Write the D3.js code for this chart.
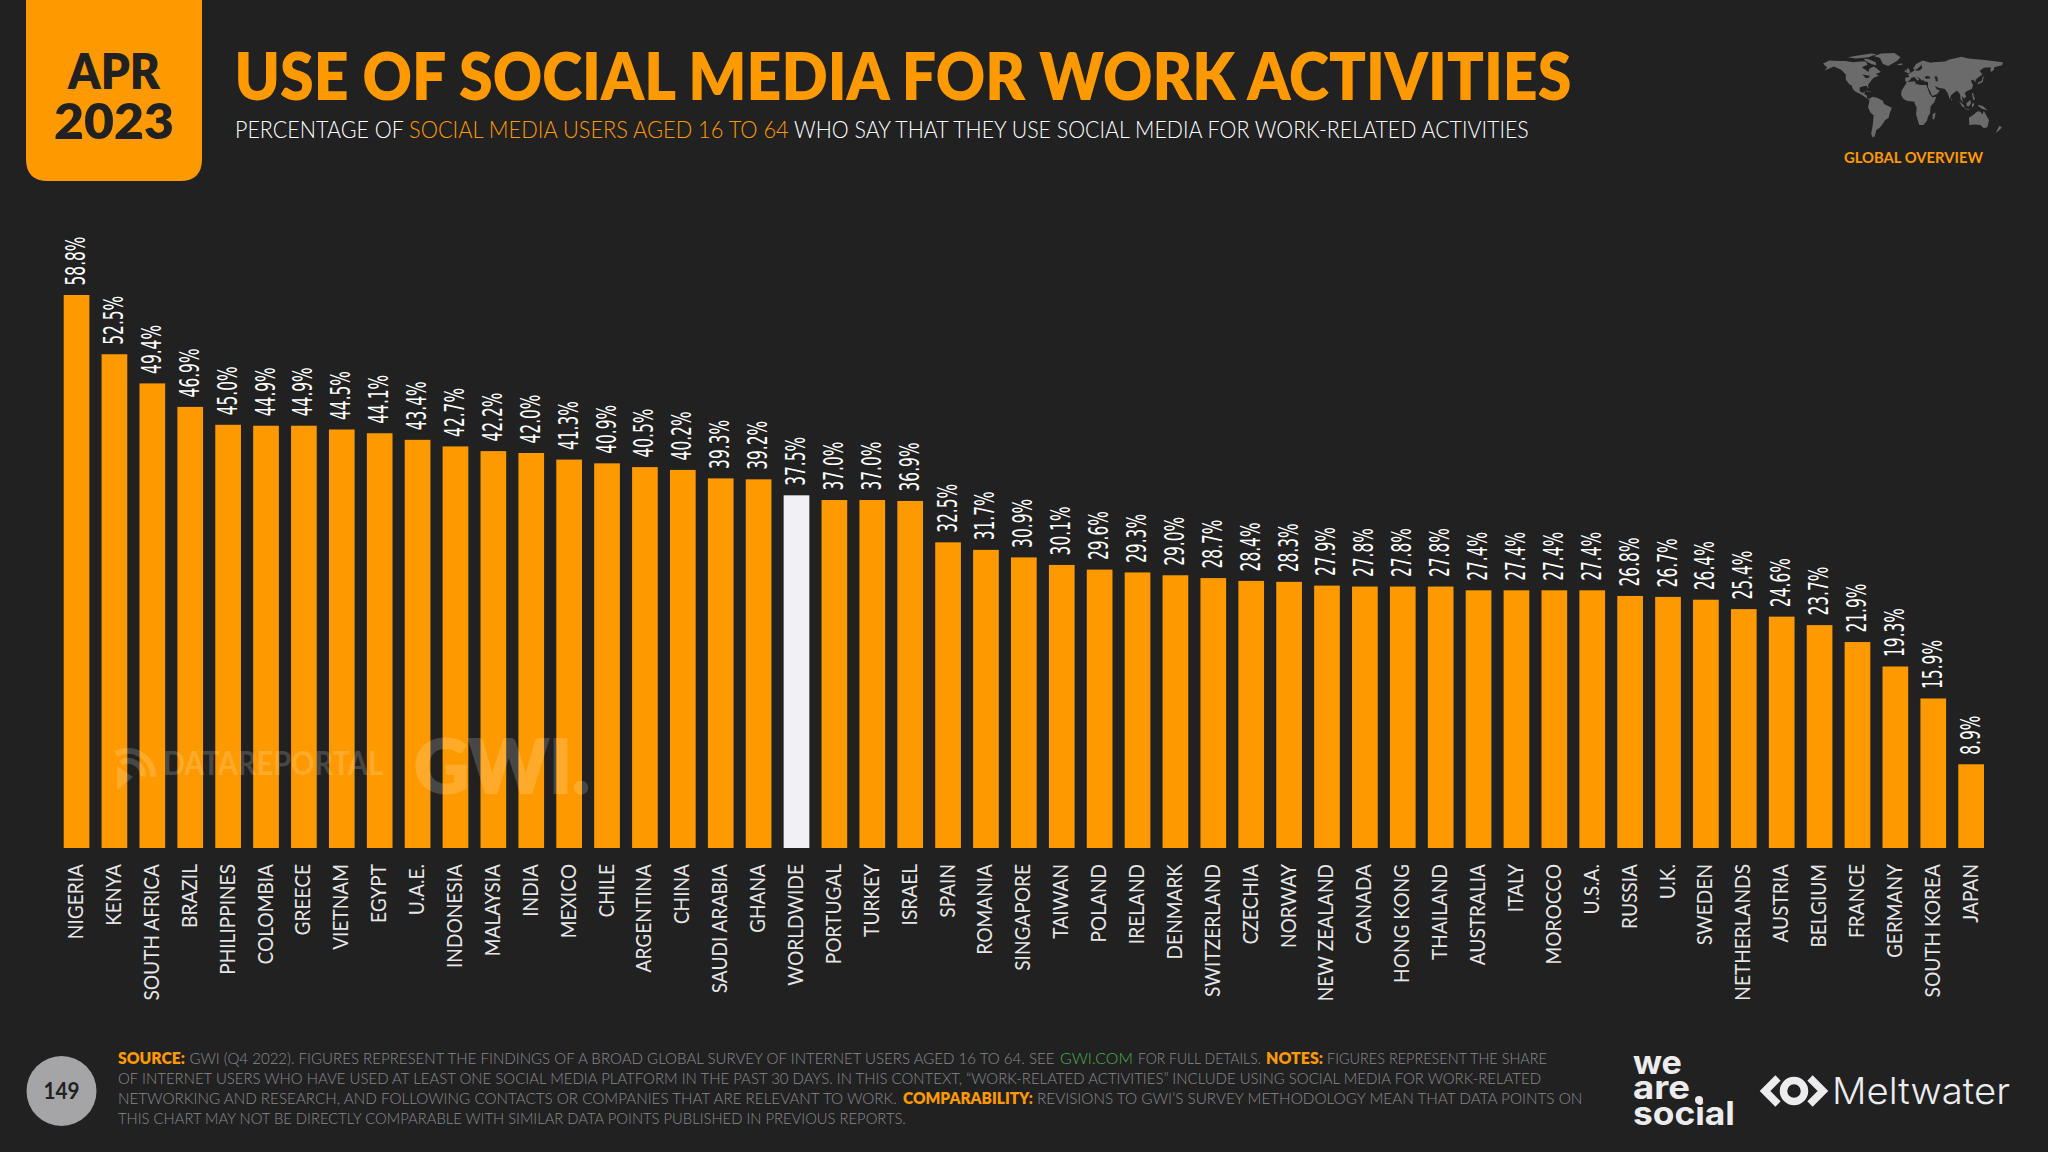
<!DOCTYPE html>
<html>
<head>
<meta charset="utf-8">
<style>
  html, body { margin: 0; padding: 0; background: #212122; }
  svg { display: block; }
</style>
<script src="https://cdn.jsdelivr.net/npm/d3@7"></script>
</head>
<body>
<script>
const countries = ['NIGERIA', 'KENYA', 'SOUTH AFRICA', 'BRAZIL', 'PHILIPPINES', 'COLOMBIA', 'GREECE', 'VIETNAM', 'EGYPT', 'U.A.E.',
  'INDONESIA', 'MALAYSIA', 'INDIA', 'MEXICO', 'CHILE', 'ARGENTINA', 'CHINA', 'SAUDI ARABIA', 'GHANA', 'WORLDWIDE',
  'PORTUGAL', 'TURKEY', 'ISRAEL', 'SPAIN', 'ROMANIA', 'SINGAPORE', 'TAIWAN', 'POLAND', 'IRELAND', 'DENMARK',
  'SWITZERLAND', 'CZECHIA', 'NORWAY', 'NEW ZEALAND', 'CANADA', 'HONG KONG', 'THAILAND', 'AUSTRALIA', 'ITALY', 'MOROCCO',
  'U.S.A.', 'RUSSIA', 'U.K.', 'SWEDEN', 'NETHERLANDS', 'AUSTRIA', 'BELGIUM', 'FRANCE', 'GERMANY', 'SOUTH KOREA', 'JAPAN']
const shares = [58.8, 52.5, 49.4, 46.9, 45.0, 44.9, 44.9, 44.5, 44.1, 43.4,
  42.7, 42.2, 42.0, 41.3, 40.9, 40.5, 40.2, 39.3, 39.2, 37.5,
  37.0, 37.0, 36.9, 32.5, 31.7, 30.9, 30.1, 29.6, 29.3, 29.0,
  28.7, 28.4, 28.3, 27.9, 27.8, 27.8, 27.8, 27.4, 27.4, 27.4,
  27.4, 26.8, 26.7, 26.4, 25.4, 24.6, 23.7, 21.9, 19.3, 15.9, 8.9]

// rough continent outlines, lon/lat
const land = [
  [[-168, 66], [-156, 71], [-140, 70], [-125, 70], [-110, 68], [-95, 69], [-85, 69], [-82, 64], [-93, 60], [-85, 55], [-80, 52], [-78, 58], [-70, 61], [-64, 58], [-56, 52], [-66, 49], [-60, 46], [-70, 43], [-75, 38], [-81, 31], [-80, 25], [-84, 30], [-90, 29], [-97, 27], [-97, 21], [-91, 18], [-87, 21], [-88, 16], [-83, 14], [-83, 9], [-78, 9], [-80, 7], [-86, 11], [-95, 16], [-105, 20], [-110, 24], [-113, 31], [-117, 32], [-124, 40], [-124, 48], [-133, 56], [-147, 61], [-158, 57], [-165, 55], [-160, 60], [-165, 63]],
  [[-55, 82], [-30, 83], [-18, 76], [-25, 70], [-42, 62], [-52, 65], [-58, 75], [-70, 78]],
  [[-90, 74], [-80, 73], [-66, 68], [-65, 63], [-75, 65], [-85, 70]],
  [[-120, 76], [-100, 79], [-75, 82], [-65, 81], [-80, 76], [-105, 74]],
  [[-78, 9], [-72, 12], [-62, 10], [-52, 5], [-50, 0], [-35, -6], [-39, -15], [-41, -22], [-48, -26], [-54, -34], [-58, -38], [-65, -42], [-68, -52], [-72, -54], [-75, -48], [-72, -35], [-70, -18], [-76, -14], [-81, -5], [-79, 2]],
  [[-17, 15], [-16, 22], [-10, 30], [-6, 36], [10, 37], [11, 33], [20, 31], [32, 31], [35, 24], [38, 17], [43, 11], [51, 12], [47, 3], [40, -4], [39, -15], [35, -20], [33, -27], [26, -34], [18, -34], [12, -17], [13, -5], [9, 1], [9, 4], [-4, 5], [-12, 8]],
  [[44, -16], [50, -14], [47, -25], [44, -24]],
  [[-9, 37], [-9, 43], [-1, 44], [-4, 48], [4, 52], [8, 54], [8, 57], [12, 54], [20, 55], [24, 59], [22, 63], [24, 66], [18, 60], [12, 56], [6, 58], [12, 65], [25, 71], [40, 67], [45, 68], [68, 69], [75, 72], [100, 77], [113, 74], [140, 72], [160, 70], [180, 68], [178, 63], [163, 60], [162, 55], [156, 52], [156, 60], [143, 59], [135, 54], [140, 48], [130, 42], [127, 39], [127, 35], [122, 40], [118, 38], [122, 31], [120, 25], [110, 21], [106, 18], [109, 12], [105, 9], [100, 13], [103, 2], [98, 8], [97, 16], [91, 22], [80, 15], [77, 8], [73, 18], [67, 25], [57, 26], [52, 28], [48, 30], [52, 24], [58, 22], [52, 16], [43, 13], [39, 21], [35, 28], [35, 36], [27, 37], [26, 40], [23, 38], [20, 41], [13, 45], [18, 40], [15, 38], [9, 44], [3, 43], [0, 39], [-5, 36]],
  [[-6, 50], [1, 51], [-2, 58], [-6, 58]],
  [[-10, 52], [-6, 52], [-6, 55], [-10, 55]],
  [[-24, 65], [-14, 66], [-14, 64], [-22, 63]],
  [[130, 32], [136, 34], [141, 36], [142, 43], [145, 44], [141, 45], [139, 38], [132, 35]],
  [[95, 5], [104, -2], [106, -6], [101, -4]],
  [[109, 1], [117, 7], [118, 1], [114, -4], [110, -3]],
  [[105, -7], [115, -8], [115, -9], [106, -8]],
  [[120, 1], [125, 1], [122, -5], [120, -5]],
  [[131, -1], [141, -3], [150, -10], [140, -8], [133, -4]],
  [[120, 18], [122, 18], [126, 7], [122, 7], [121, 13]],
  [[114, -22], [122, -18], [130, -12], [136, -12], [140, -17], [143, -11], [153, -26], [150, -37], [143, -39], [136, -34], [125, -33], [115, -34]],
  [[173, -35], [178, -38], [168, -46], [167, -45]],
  [[-84, 22], [-75, 20], [-78, 20], [-84, 21]],
  [[80, 9], [82, 7], [80, 6]]
]
const inlandSeas = [
  [[47, 45], [53, 45], [54, 37], [50, 37], [49, 41]],
  [[28, 44], [35, 46], [41, 42], [31, 41]],
  [[-92, 48], [-78, 46], [-79, 43], [-86, 42], [-88, 45]]
]

// footer pieces: text, colour key, left and right edge
const footerLines = [
  [['SOURCE:', 'o', 118, 185], ['GWI (Q4 2022). FIGURES REPRESENT THE FINDINGS OF A BROAD GLOBAL SURVEY OF INTERNET USERS AGED 16 TO 64. SEE', 'g', 189.5, 1055], ['GWI.COM', 'l', 1060, 1133], ['FOR FULL DETAILS.', 'g', 1138, 1261], ['NOTES:', 'o', 1266, 1323], ['FIGURES REPRESENT THE SHARE', 'g', 1327, 1547]],
  [['OF INTERNET USERS WHO HAVE USED AT LEAST ONE SOCIAL MEDIA PLATFORM IN THE PAST 30 DAYS. IN THIS CONTEXT, \u201CWORK-RELATED ACTIVITIES\u201D INCLUDE USING SOCIAL MEDIA FOR WORK-RELATED', 'g', 118, 1542]],
  [['NETWORKING AND RESEARCH, AND FOLLOWING CONTACTS OR COMPANIES THAT ARE RELEVANT TO WORK.', 'g', 118, 897], ['COMPARABILITY:', 'o', 903, 1033], ['REVISIONS TO GWI\u2019S SURVEY METHODOLOGY MEAN THAT DATA POINTS ON', 'g', 1037, 1583]],
  [['THIS CHART MAY NOT BE DIRECTLY COMPARABLE WITH SIMILAR DATA POINTS PUBLISHED IN PREVIOUS REPORTS.', 'g', 118, 906]]
]

const orange = '#ff9900'
const bg = '#212122'
const sans = 'Lato, "Open Sans", sans-serif'

const svg = d3.select('body').append('svg')
  .attr('width', 2048)
  .attr('height', 1152)
  .attr('viewBox', '0 0 2048 1152')

svg.append('rect').attr('width', 2048).attr('height', 1152).attr('fill', bg)

// text squeezed to the width it has in the picture
function fitText (x, y, width, str, fill, opts) {
  const g = svg.append('g')
  const t = g.append('text')
    .attr('font-family', opts.family || sans)
    .attr('font-size', opts.size)
    .attr('font-weight', opts.weight || 400)
    .attr('fill', fill)
    .text(str)
  const w = t.node().getComputedTextLength()
  g.attr('transform', 'translate(' + x + ',' + y + ') scale(' + (width / w) + ',1)')
}

// header
svg.append('path')
  .attr('d', 'M26,0H202V159Q202,181 180,181H48Q26,181 26,159Z')
  .attr('fill', orange)
fitText(68, 89, 92, 'APR', bg, { size: 49, weight: 800 })
fitText(54, 139, 120, '2023', bg, { size: 50, weight: 800 })
fitText(234.5, 99.5, 1337, 'USE OF SOCIAL MEDIA FOR WORK ACTIVITIES', orange, { size: 66, weight: 800 })
fitText(235, 138, 169, 'PERCENTAGE OF', '#fff', { size: 24, weight: 300 })
fitText(409, 138, 380, 'SOCIAL MEDIA USERS AGED 16 TO 64', orange, { size: 24, weight: 300 })
fitText(794, 138, 735, 'WHO SAY THAT THEY USE SOCIAL MEDIA FOR WORK-RELATED ACTIVITIES', '#fff', { size: 24, weight: 300 })

// map
const lon = d3.scaleLinear().domain([-168, 180]).range([1823, 2003])
const lat = d3.scaleLinear().domain([83, -55]).range([53, 138])
const ring = d3.line().x(function (d) { return lon(d[0]) }).y(function (d) { return lat(d[1]) })
svg.append('g').selectAll('path').data(land).enter().append('path')
  .attr('d', function (d) { return ring(d) + 'Z' })
  .attr('fill', '#6b6b6b')
svg.append('g').selectAll('path').data(inlandSeas).enter().append('path')
  .attr('d', function (d) { return ring(d) + 'Z' })
  .attr('fill', bg)
fitText(1844, 163, 139, 'GLOBAL OVERVIEW', orange, { size: 16, weight: 700 })

// chart
const x = d3.scaleBand()
  .domain(countries)
  .range([63.7, 1984])
  .paddingInner(0.322)
  .paddingOuter(0)
const y = d3.scaleLinear().domain([0, 58.8]).range([848, 295])

const rows = countries.map(function (c, i) { return { name: c, value: shares[i] } })

svg.append('g').selectAll('rect').data(rows).enter().append('rect')
  .attr('x', function (d) { return x(d.name) })
  .attr('y', function (d) { return y(d.value) })
  .attr('width', x.bandwidth())
  .attr('height', function (d) { return y(0) - y(d.value) })
  .attr('fill', function (d) { return d.name === 'WORLDWIDE' ? '#f1f0f4' : orange })

svg.append('g').selectAll('text').data(rows).enter().append('text')
  .attr('transform', function (d) {
    return 'translate(' + (x(d.name) + x.bandwidth() / 2 + 8.5) + ',' + (y(d.value) - 9.5) + ') rotate(-90) scale(0.66,1)'
  })
  .attr('font-family', '"Liberation Sans Narrow", "DejaVu Sans Condensed", sans-serif')
  .attr('font-size', 26)
  .attr('fill', '#fff')
  .text(function (d) { return d.value.toFixed(1) + '%' })

const axis = svg.append('g')
  .attr('transform', 'translate(0,864)')
  .call(d3.axisBottom(x).tickSize(0).tickPadding(0))
axis.select('.domain').remove()
axis.selectAll('text')
  .attr('font-family', sans)
  .attr('font-size', 21)
  .attr('fill', '#e6e6e6')
  .attr('text-anchor', 'end')
  .attr('dy', null)
  .attr('y', null)
  .attr('transform', 'rotate(-90) translate(0,6.5) scale(0.91,1)')

// watermark sits over the bars
const mark = svg.append('g').attr('fill', '#fff').attr('opacity', 0.17)
const arc = d3.arc().startAngle(-0.5).endAngle(1.6)
mark.append('path').attr('transform', 'translate(128,776)')
  .attr('d', arc({ innerRadius: 22, outerRadius: 28 }))
mark.append('path').attr('transform', 'translate(128,776)')
  .attr('d', arc({ innerRadius: 12, outerRadius: 18 }))
mark.append('path').attr('d', 'M117,766L133,777L117,790Z')
mark.append('text').attr('x', 163).attr('y', 775)
  .attr('font-family', sans).attr('font-size', 32).attr('font-weight', 700)
  .attr('textLength', 220).attr('lengthAdjust', 'spacingAndGlyphs').text('DATAREPORTAL')
mark.append('text').attr('x', 414).attr('y', 793)
  .attr('font-family', sans).attr('font-size', 75).attr('font-weight', 900)
  .attr('stroke', '#fff').attr('stroke-width', 2)
  .attr('textLength', 176).attr('lengthAdjust', 'spacingAndGlyphs').text('GWI.')

// footer
svg.append('circle').attr('cx', 61.5).attr('cy', 1091).attr('r', 35).attr('fill', '#a5a5a7')
fitText(43.5, 1099, 36, '149', bg, { size: 22, weight: 700 })

const runColor = { o: orange, g: '#8a8a8c', l: '#4caf50' }
footerLines.forEach(function (line, i) {
  line.forEach(function (r) {
    fitText(r[2], 1064 + i * 20, r[3] - r[2], r[0], runColor[r[1]], {
      size: 16,
      weight: r[1] === 'o' ? 800 : 300
    })
  })
})

// logos
const logoFill = '#ececee'
const logoFont = 'Inter, sans-serif'
fitText(1633, 1074, 49, 'we', logoFill, { size: 33, weight: 700, family: logoFont })
fitText(1633, 1099, 57, 'are', logoFill, { size: 33, weight: 700, family: logoFont })
fitText(1633, 1125, 102, 'social', logoFill, { size: 33, weight: 700, family: logoFont })
svg.append('circle').attr('cx', 1699).attr('cy', 1100).attr('r', 4).attr('fill', logoFill)

svg.append('circle').attr('cx', 1794).attr('cy', 1091).attr('r', 10.5)
  .attr('fill', 'none').attr('stroke', logoFill).attr('stroke-width', 7.5)
svg.append('path').attr('d', 'M1778,1078L1765,1091L1778,1104M1810,1078L1823,1091L1810,1104')
  .attr('fill', 'none').attr('stroke', logoFill).attr('stroke-width', 7.5)
fitText(1832, 1104, 178, 'Meltwater', logoFill, { size: 37, weight: 300, family: logoFont })
</script>
</body>
</html>
